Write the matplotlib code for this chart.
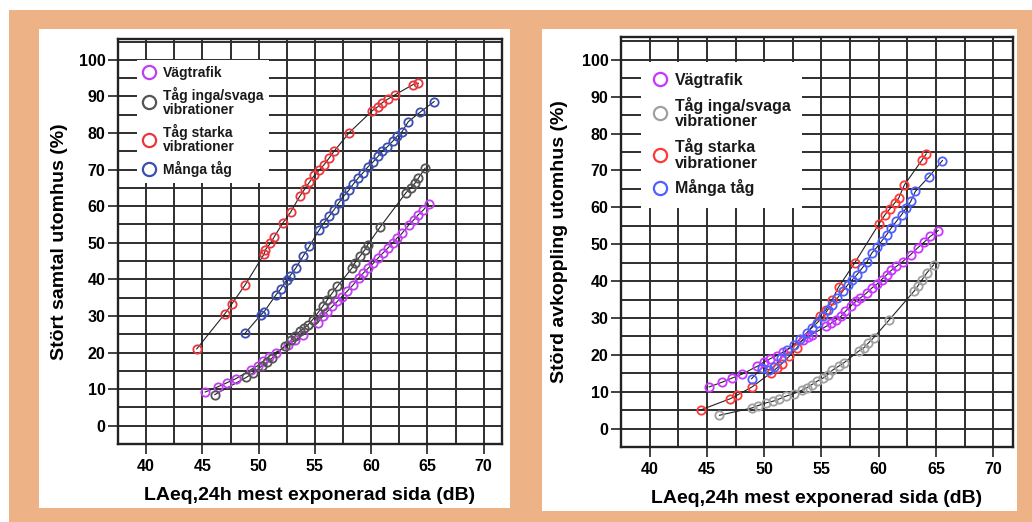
import numpy as np
import matplotlib
matplotlib.use("Agg")
import matplotlib.pyplot as plt
from matplotlib.patches import Rectangle
from matplotlib.lines import Line2D

plt.rcParams['font.family'] = ['Liberation Sans', 'DejaVu Sans']
plt.rcParams['font.weight'] = 'bold'

# ---- data: left panel (Stört samtal utomhus) ----
samtal_vag_x = [45.25, 46.35, 47.15, 47.95, 49.3, 49.9, 50.4, 50.9, 51.5, 52.65, 53.2, 53.95,
                55.25, 55.7, 56.1, 56.55, 57.0, 57.4, 57.85, 58.4, 58.9, 59.3, 59.75, 60.2,
                60.6, 61.05, 61.5, 61.9, 62.3, 62.75, 63.35, 63.8, 64.2, 64.65, 65.1]
samtal_vag_y = [9.2, 10.6, 11.7, 12.8, 15.3, 16.4, 17.6, 18.9, 20.0, 22.1, 23.3, 24.9,
                28.1, 29.9, 31.2, 32.6, 34.0, 35.3, 36.7, 38.5, 40.4, 41.7, 43.1, 44.4,
                45.8, 47.2, 48.6, 49.9, 51.3, 52.6, 54.9, 56.3, 57.7, 59.0, 60.6]

samtal_svag_x = [46.1, 48.9, 49.5, 50.3, 50.75, 51.2, 52.3, 52.9, 53.2, 53.65, 54.05, 54.4,
                 54.8, 55.25, 55.7, 56.1, 56.55, 57.0, 58.3, 58.55, 59.0, 59.45, 59.7, 60.8,
                 63.1, 63.5, 63.9, 64.2, 64.8]
samtal_svag_y = [8.5, 13.2, 14.4, 16.4, 17.3, 18.5, 21.7, 23.3, 24.4, 25.8, 26.7, 27.6,
                 29.0, 30.8, 32.6, 34.4, 36.3, 38.1, 43.1, 44.5, 46.3, 48.1, 49.5, 54.3,
                 63.7, 64.9, 66.3, 67.7, 70.4]

samtal_stark_x = [44.5, 47.0, 47.6, 48.8, 50.5, 50.6, 51.05, 51.4, 52.15, 52.85, 53.65, 54.1,
                  54.5, 54.95, 55.4, 55.8, 56.25, 56.7, 58.05, 60.1, 60.6, 61.0, 61.5, 62.1,
                  63.7, 64.2]
samtal_stark_y = [21.0, 30.6, 33.2, 38.5, 47.0, 48.1, 49.9, 51.7, 55.4, 58.4, 62.7, 64.7,
                  66.5, 68.4, 69.9, 71.3, 73.1, 75.0, 80.1, 86.1, 87.2, 88.3, 89.3, 90.4,
                  93.2, 93.6]

samtal_manga_x = [48.8, 50.2, 50.5, 51.55, 51.95, 52.5, 52.8, 53.3, 53.95, 54.5, 55.4, 55.8,
                  56.25, 56.7, 57.1, 57.55, 58.0, 58.4, 58.85, 59.3, 59.7, 60.15, 60.6, 61.0,
                  61.45, 61.9, 62.3, 62.75, 63.3, 64.35, 65.6]
samtal_manga_y = [25.3, 30.3, 31.2, 35.8, 37.3, 39.9, 41.0, 43.1, 46.3, 49.0, 53.6, 55.4,
                  57.2, 59.0, 60.8, 62.7, 64.3, 66.0, 67.7, 69.2, 70.7, 72.0, 73.6, 75.0,
                  76.3, 77.7, 79.1, 80.4, 83.1, 85.7, 88.6]

# ---- data: right panel (Störd avkoppling utomhus) ----
avk_vag_x = [45.2, 46.35, 47.2, 48.1, 49.4, 49.95, 50.5, 51.1, 51.65, 53.35, 53.8, 54.15,
             55.4, 55.85, 56.3, 56.7, 57.1, 57.55, 58.0, 58.4, 58.95, 59.4, 59.85, 60.25,
             60.7, 61.1, 61.55, 62.1, 62.8, 63.4, 63.95, 64.5, 65.2]
avk_vag_y = [11.3, 12.6, 13.7, 14.8, 16.9, 18.0, 18.9, 19.8, 20.7, 23.9, 24.8, 25.5,
             27.7, 28.6, 29.5, 30.4, 31.8, 33.2, 34.5, 35.4, 36.8, 38.1, 39.2, 40.4,
             41.7, 42.9, 44.0, 45.3, 47.2, 49.0, 50.5, 52.1, 53.7]

avk_svag_x = [46.1, 48.95, 49.45, 50.2, 50.75, 51.3, 51.9, 52.6, 53.3, 53.7, 54.15, 54.6,
              55.15, 55.55, 55.95, 56.5, 56.95, 58.25, 58.7, 59.1, 59.55, 60.9, 63.1, 63.4,
              63.8, 64.2, 64.8]
avk_svag_y = [3.6, 5.6, 6.2, 7.0, 7.4, 8.0, 8.8, 9.5, 10.4, 11.0, 11.9, 12.8,
              13.7, 14.6, 15.8, 16.9, 17.8, 21.0, 21.9, 23.2, 24.6, 29.4, 37.3, 38.6,
              40.4, 42.2, 44.4]

avk_stark_x = [44.5, 47.05, 47.6, 48.9, 50.6, 51.1, 51.55, 52.2, 52.85, 54.85, 55.4, 55.95,
               56.5, 57.9, 60.05, 60.55, 60.95, 61.4, 61.75, 62.25, 63.8, 64.15]
avk_stark_y = [5.1, 8.1, 9.0, 11.2, 15.1, 16.4, 17.6, 19.6, 21.9, 30.6, 32.2, 35.0,
               38.4, 44.9, 55.6, 58.0, 59.5, 61.2, 62.5, 66.1, 72.9, 74.5]

avk_manga_x = [48.9, 49.8, 50.4, 50.9, 51.45, 52.0, 52.6, 53.15, 53.7, 54.15, 54.6, 55.15,
               55.55, 55.95, 56.4, 56.85, 57.3, 57.7, 58.1, 58.55, 59.0, 59.4, 59.85, 60.25,
               60.7, 61.1, 61.55, 62.0, 62.4, 62.8, 63.2, 64.36, 65.57]
avk_manga_y = [13.5, 16.5, 16.0, 16.8, 19.2, 21.4, 22.8, 24.3, 25.9, 27.3, 28.6, 30.4,
               32.2, 33.6, 35.4, 37.2, 39.0, 40.4, 41.7, 43.5, 45.3, 47.6, 49.2, 50.8,
               52.6, 54.4, 56.2, 58.0, 59.8, 61.6, 64.3, 68.2, 72.7]

labels = ['Vägtrafik', 'Tåg inga/svaga\nvibrationer', 'Tåg starka\nvibrationer', 'Många tåg']
x_ticks = [40, 45, 50, 55, 60, 65, 70]
y_ticks = [0, 10, 20, 30, 40, 50, 60, 70, 80, 90, 100]

left_colors = ['#c040f0', '#555555', '#e8383d', '#3a4fb0']
right_colors = ['#c836ff', '#a0a0a0', '#ff3838', '#5060ff']

W, H = 1032, 522
fig = plt.figure(figsize=(W / 100, H / 100), dpi=100)
fig.patch.set_facecolor('white')


def px_rect(x0, y0, x1, y1, color):
    fig.patches.append(Rectangle((x0 / W, 1 - y1 / H), (x1 - x0) / W, (y1 - y0) / H,
                                 transform=fig.transFigure, facecolor=color,
                                 edgecolor='none', zorder=-10))


px_rect(9, 10, W, H, '#edb386')
px_rect(39, 29, 510, 508, 'white')
px_rect(542, 29, 1017, 511, 'white')


def draw_panel(rect, xlim, ylim, series, colors, ylabel, leg_anchor, leg_size,
               leg_lsp, leg_pad, line_sp, ylabpad):
    ax = fig.add_axes(rect)
    ax.set_facecolor('none')
    ax.set_xlim(*xlim)
    ax.set_ylim(*ylim)
    ax.set_xticks(x_ticks)
    ax.set_yticks(y_ticks)
    ax.set_xticks(np.arange(37.5, 72.5, 2.5), minor=True)
    ax.set_yticks(np.arange(-5, 110, 5), minor=True)
    ax.grid(True, which='both', color='#2e2e2e', lw=1.4)
    ax.set_axisbelow(True)
    ax.tick_params(which='major', direction='out', length=7, width=1.3, color='#333333',
                   labelsize=11.5, pad=2)
    ax.tick_params(axis='x', which='major', pad=4)
    ax.tick_params(which='minor', length=0)
    for sp in ax.spines.values():
        sp.set_linewidth(1.7)
        sp.set_color('#222222')
    handles = []
    for (xs, ys), c in zip(series, colors):
        ax.plot(xs, ys, color='#222222', lw=0.8, zorder=3)
        ax.plot(xs, ys, 'o', ms=6, mfc='none', mec=c, mew=1.3, zorder=4)
        handles.append(Line2D([], [], ls='none', marker='o', ms=9.5, mfc='none', mec=c, mew=1.6))
    leg = ax.legend(handles, labels, loc='upper left', bbox_to_anchor=leg_anchor,
                    fontsize=leg_size, frameon=True, fancybox=False, framealpha=1,
                    handlelength=1.0, handletextpad=0.45, borderpad=leg_pad,
                    labelspacing=leg_lsp, borderaxespad=0)
    leg.get_frame().set_edgecolor('none')
    leg.get_frame().set_facecolor('white')
    leg.set_zorder(5)
    for t in leg.get_texts():
        t.set_linespacing(line_sp)
        t.set_color('#1a1a1a')
    ax.set_xlabel('LAeq,24h mest exponerad sida (dB)', fontsize=14, fontweight='bold', labelpad=9)
    ax.set_ylabel(ylabel, fontsize=14, fontweight='bold', labelpad=ylabpad)
    return ax


draw_panel([118 / W, 1 - 444 / H, 384 / W, 405 / H], (38.29, 71.63), (-4.9, 105.7),
           [(samtal_vag_x, samtal_vag_y), (samtal_svag_x, samtal_svag_y),
            (samtal_stark_x, samtal_stark_y), (samtal_manga_x, samtal_manga_y)],
           left_colors, 'Stört samtal utomhus (%)', (0.049, 0.948), 10, 0.52, 0.4, 0.98, 8)

draw_panel([621 / W, 1 - 447 / H, 392 / W, 410 / H], (38.32, 71.73), (-4.9, 106.2),
           [(avk_vag_x, avk_vag_y), (avk_svag_x, avk_svag_y),
            (avk_stark_x, avk_stark_y), (avk_manga_x, avk_manga_y)],
           right_colors, 'Störd avkoppling utomhus (%)', (0.05, 0.94), 11.5, 0.55, 0.7, 1.05, 10)

fig.savefig('out.png', dpi=100)
